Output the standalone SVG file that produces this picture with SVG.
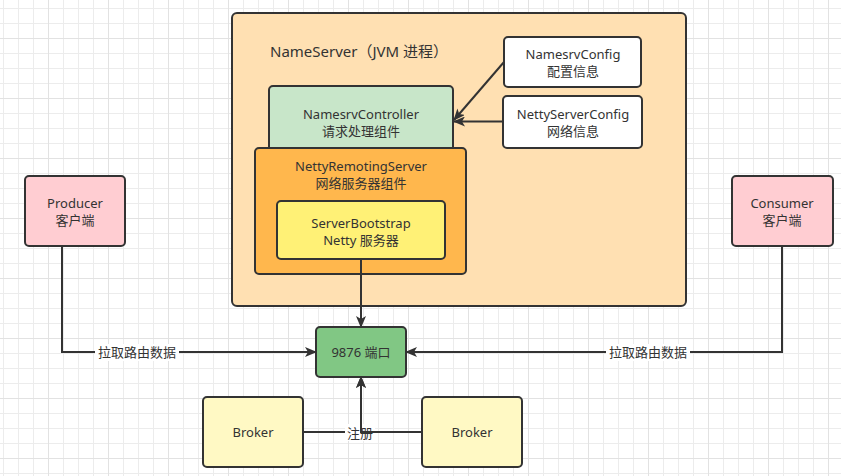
<svg xmlns="http://www.w3.org/2000/svg" width="841" height="476" viewBox="0 0 841 476">
<defs>
<pattern id="gridMinor" x="3" y="8" width="15" height="15" patternUnits="userSpaceOnUse">
<path d="M0 0.5H15M0.5 0V15" fill="none" stroke="#ececec" stroke-width="1"/>
</pattern>
<pattern id="gridMajor" x="48" y="38" width="60" height="60" patternUnits="userSpaceOnUse">
<path d="M0 0.5H60M0.5 0V60" fill="none" stroke="#e2e2e2" stroke-width="1"/>
</pattern>
<marker id="arrow" viewBox="0 0 12 10" refX="11" refY="5" markerWidth="12" markerHeight="10" markerUnits="userSpaceOnUse" orient="auto">
<path d="M0 0L12 5L0 10L3 5Z" fill="#333333"/>
</marker>
<style>
.box{stroke:#333333;stroke-width:2}
.t{font-family:"Noto Sans","Noto Sans CJK SC",sans-serif;font-size:13px;fill:#333333;text-anchor:middle;dominant-baseline:central}
.title{font-family:"Noto Sans","Noto Sans CJK SC",sans-serif;font-size:15px;fill:#333333;dominant-baseline:central}
.edge{fill:none;stroke:#333333;stroke-width:2}
.lbl{fill:#ffffff}
</style>
</defs>
<rect width="841" height="476" fill="#ffffff"/>
<rect width="841" height="476" fill="url(#gridMinor)"/>
<rect width="841" height="476" fill="url(#gridMajor)"/>

<g id="nameserver">
<rect class="box" x="232" y="13" width="454" height="293" rx="5" fill="#ffe0b2"/>
<text class="title" x="270" y="51">NameServer（JVM 进程）</text>
</g>

<g id="namesrvController">
<rect class="box" x="269" y="86" width="184" height="80" rx="4" fill="#c8e6c9"/>
<text class="t" x="361" y="113.5">NamesrvController<tspan x="361" dy="17">请求处理组件</tspan></text>
</g>

<g id="nettyRemotingServer">
<rect class="box" x="255" y="148" width="211" height="126" rx="4" fill="#ffb74d"/>
<text class="t" x="361" y="165.5">NettyRemotingServer<tspan x="361" dy="17">网络服务器组件</tspan></text>
</g>

<g id="serverBootstrap">
<rect class="box" x="277" y="201" width="168" height="58" rx="4" fill="#fff176"/>
<text class="t" x="361" y="222.5">ServerBootstrap<tspan x="361" dy="17">Netty 服务器</tspan></text>
</g>

<g id="namesrvConfig">
<rect class="box" x="504" y="37" width="137" height="50" rx="4" fill="#ffffff"/>
<text class="t" x="573" y="53.5">NamesrvConfig<tspan x="573" dy="17">配置信息</tspan></text>
</g>

<g id="nettyServerConfig">
<rect class="box" x="503" y="96" width="139" height="52" rx="4" fill="#ffffff"/>
<text class="t" x="573" y="113.5">NettyServerConfig<tspan x="573" dy="17">网络信息</tspan></text>
</g>

<g id="port">
<rect class="box" x="316" y="327" width="90" height="50" rx="4" fill="#81c784"/>
<text class="t" x="361" y="352">9876 端口</text>
</g>

<g id="producer">
<rect class="box" x="25" y="176" width="100" height="70" rx="4" fill="#ffcdd2"/>
<text class="t" x="75" y="203">Producer<tspan x="75" dy="17">客户端</tspan></text>
</g>

<g id="consumer">
<rect class="box" x="732" y="176" width="101" height="70" rx="4" fill="#ffcdd2"/>
<text class="t" x="782" y="203">Consumer<tspan x="782" dy="17">客户端</tspan></text>
</g>

<g id="broker1">
<rect class="box" x="203" y="397" width="100" height="70" rx="4" fill="#fff9c4"/>
<text class="t" x="253" y="432">Broker</text>
</g>

<g id="broker2">
<rect class="box" x="422" y="397" width="100" height="70" rx="4" fill="#fff9c4"/>
<text class="t" x="472" y="432">Broker</text>
</g>

<g id="connectors">
<path class="edge" d="M504 62L454 120" marker-end="url(#arrow)"/>
<path class="edge" d="M503 121.5L454 121.5" marker-end="url(#arrow)"/>
<path class="edge" d="M361 259L361 327" marker-end="url(#arrow)"/>
<path class="edge" d="M62 246L62 352L316 352" marker-end="url(#arrow)"/>
<rect class="lbl" x="95" y="344" width="84" height="17"/>
<text class="t" x="137" y="352">拉取路由数据</text>
<path class="edge" d="M782 246L782 352L406 352" marker-end="url(#arrow)"/>
<rect class="lbl" x="606" y="344" width="84" height="17"/>
<text class="t" x="648" y="352">拉取路由数据</text>
<path class="edge" d="M303 432L361 432L361 377" marker-end="url(#arrow)"/>
<rect class="lbl" x="345" y="424" width="30" height="17"/>
<text class="t" x="360" y="433">注册</text>
<path class="edge" d="M422 432L361 432L361 377" marker-end="url(#arrow)"/>
</g>
</svg>
